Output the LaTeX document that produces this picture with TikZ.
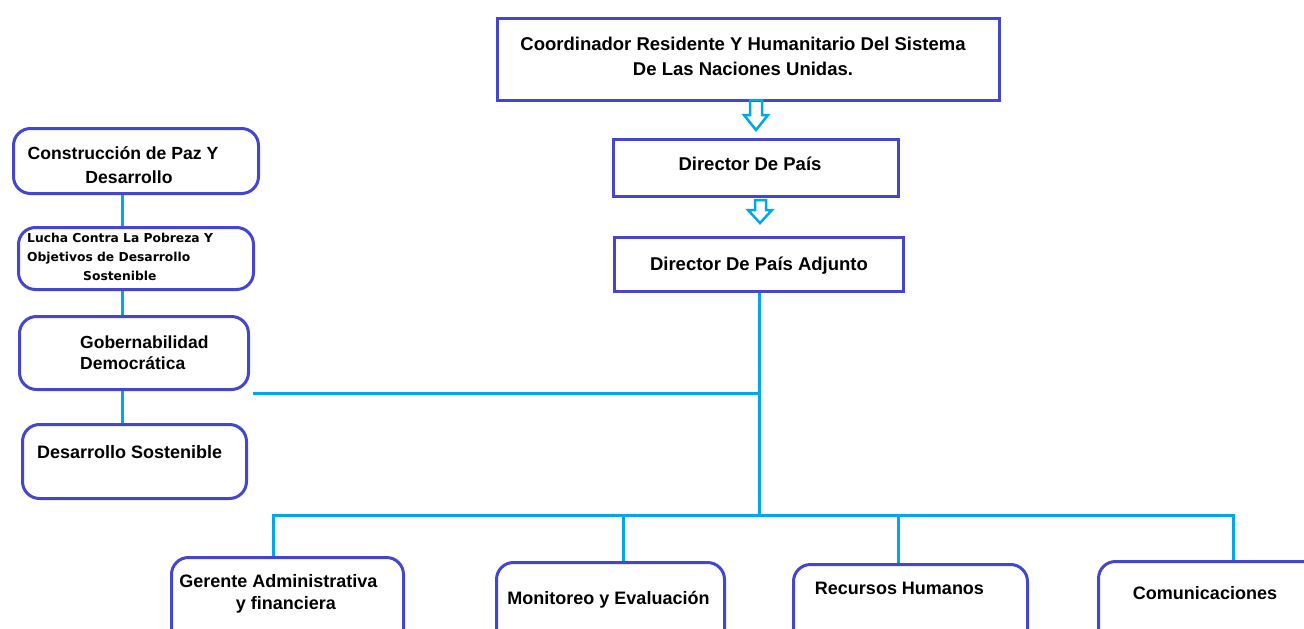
\documentclass[tikz,border=0pt]{standalone}
\usepackage{fontspec}
\setmainfont{Liberation Sans}
\newfontfamily\lfont{DejaVu Sans}
\definecolor{boxblue}{RGB}{68,70,206}
\definecolor{cyanline}{RGB}{0,168,234}
\begin{document}
\begin{tikzpicture}[x=1pt,y=-1pt,
  sqbox/.style={draw=boxblue, line width=3pt, inner sep=0pt, anchor=north west},
  rbox/.style={draw=boxblue, line width=3pt, inner sep=0pt, anchor=north west, rounded corners=17pt},
  txt/.style={inner sep=0pt, font=\bfseries\fontsize{18.5}{24}\selectfont, text=black},
  conn/.style={draw=cyanline, line width=3pt},
  harrow/.style={draw=cyanline, line width=2.5pt, line join=miter}]
\useasboundingbox (0,0) rectangle (1304,629);
\fill[white] (0,0) rectangle (1304,629);
\clip (0,0) rectangle (1304,629);

% right column boxes
\node[sqbox, minimum width=502pt, minimum height=82pt] (top) at (496,17) {};
\node[sqbox, minimum width=285pt, minimum height=57pt] (dir) at (612,138) {};
\node[sqbox, minimum width=289pt, minimum height=54pt] (adj) at (613,236) {};

% left column boxes
\node[rbox, minimum width=245pt, minimum height=65pt] (c1) at (12,127) {};
\node[rbox, minimum width=235pt, minimum height=62pt] (c2) at (17,226) {};
\node[rbox, minimum width=229pt, minimum height=73pt] (c3) at (18,315) {};
\node[rbox, minimum width=224pt, minimum height=74pt] (c4) at (21,423) {};

% bottom boxes
\node[rbox, minimum width=232pt, minimum height=110pt] (b1) at (170,556) {};
\node[rbox, minimum width=228pt, minimum height=110pt] (b2) at (495,561) {};
\node[rbox, minimum width=234pt, minimum height=110pt] (b3) at (792,563) {};
\node[rbox, minimum width=234pt, minimum height=110pt] (b4) at (1097,560) {};

% texts
\node[txt, align=center, font=\bfseries\fontsize{18.5}{25}\selectfont] (ttop) at (743,56) {Coordinador Residente Y Humanitario Del Sistema\\De Las Naciones Unidas.};
\node[txt] (tdir) at (750,164) {Director De País};
\node[txt] (tadj) at (759,266) {Director De País Adjunto};
\node[txt, align=center, font=\bfseries\fontsize{17.6}{24}\selectfont] (tc1) at (123,165) {Construcción de Paz Y\\\hspace*{12pt}Desarrollo};
\node[inner sep=0pt, anchor=west, align=left, font=\lfont\bfseries\fontsize{12.3}{19}\selectfont] (tc2) at (27,257) {Lucha Contra La Pobreza Y\\Objetivos de Desarrollo\\\hspace*{56pt}Sostenible};
\node[txt, anchor=west, align=left, font=\bfseries\fontsize{17.5}{21}\selectfont] (tc3) at (80,353) {Gobernabilidad\\Democrática};
\node[txt, anchor=west, font=\bfseries\fontsize{18}{24}\selectfont] (tc4) at (37,452) {Desarrollo Sostenible};
\node[txt, align=center, font=\bfseries\fontsize{18}{22}\selectfont] (tb1) at (278.5,594) {Gerente Administrativa\\\hspace*{15pt}y financiera};
\node[txt, font=\bfseries\fontsize{18}{24}\selectfont] (tb2) at (608.5,600) {Monitoreo y Evaluación};
\node[txt, font=\bfseries\fontsize{18}{24}\selectfont] (tb3) at (899.5,588) {Recursos Humanos};
\node[txt, font=\bfseries\fontsize{18}{24}\selectfont] (tb4) at (1205,593) {Comunicaciones};

% hollow arrows
\draw[harrow] (750,100) -- (750,115) -- (744,115) -- (756,130) -- (768,115) -- (762,115) -- (762,100) -- cycle;
\draw[harrow] (755,200) -- (755,210) -- (748,210) -- (760,223) -- (772,210) -- (766,210) -- (766,200) -- cycle;

% helper coordinates
\coordinate (lx) at (122,0);
\coordinate (hl) at (253,393);
\coordinate (bus) at (0,515);
\coordinate (d1) at (273,0);
\coordinate (d2) at (623,0);
\coordinate (d3) at (898,0);
\coordinate (d4) at (1233,0);

% left connectors
\draw[conn] (c1.south -| lx) -- (c2.north -| lx);
\draw[conn] (c2.south -| lx) -- (c3.north -| lx);
\draw[conn] (c3.south -| lx) -- (c4.north -| lx);
\draw[conn] (hl) -- (hl -| adj.south);

% main trunk and bus
\draw[conn] (adj.south) -- (adj.south |- bus);
\draw[conn] (d1 |- b1.north) -- (d1 |- bus) -- (d4 |- bus) -- (d4 |- b4.north);
\draw[conn] (d2 |- bus) -- (d2 |- b2.north);
\draw[conn] (d3 |- bus) -- (d3 |- b3.north);
\end{tikzpicture}
\end{document}
